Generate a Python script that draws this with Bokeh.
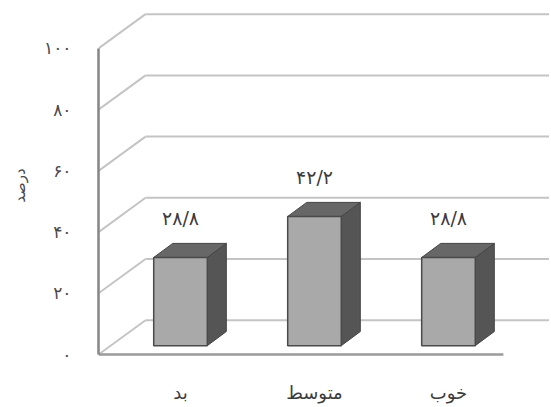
from bokeh.plotting import figure
from bokeh.models import Range1d, FixedTicker, ColumnDataSource
from bokeh.embed import file_html
from bokeh.resources import INLINE
from bokeh.core.properties import value

# ---- data ----
categories = ["بد", "متوسط", "خوب"]
values = [28.8, 42.2, 28.8]
value_labels = ["۲۸/۸", "۴۲/۲", "۲۸/۸"]
y_ticks = [0, 20, 40, 60, 80, 100]
y_tick_labels = ["۰", "۲۰", "۴۰", "۶۰", "۸۰", "۱۰۰"]
y_title = "درصد"

FONT = "DejaVu Sans"

# ---- geometry (data units) ----
x0, x1 = -0.612, 2.754
y0, y1 = -1.96, 112.4
wall_dx, wall_dy = 0.351, 11.2     # back wall depth
bar_hw = 0.2                        # half width of front face
bar_dx, bar_dy = 0.142, 4.6         # bar side depth
base = 2.9                          # bar base lift above floor
floor_front_end = 2.41

p = figure(frame_width=451, frame_height=350, output_backend="svg", toolbar_location=None,
           x_range=Range1d(x0, x1), y_range=Range1d(y0, y1),
           min_border_left=98, min_border_right=0, min_border_top=10, min_border_bottom=40)
p.xgrid.visible = False
p.ygrid.visible = False
p.outline_line_color = None
p.background_fill_color = "white"
p.border_fill_color = "white"

# back wall gridlines + slanted connectors
gx0 = [x0 + wall_dx for _ in y_ticks]
gx1 = [x1 for _ in y_ticks]
gy = [t + wall_dy for t in y_ticks]
p.segment(x0=gx0, y0=gy, x1=gx1, y1=gy, line_color="#c4c4c4", line_width=2)
p.segment(x0=[x0] * len(y_ticks), y0=y_ticks, x1=gx0, y1=gy, line_color="#c4c4c4", line_width=2)
# front floor edge
p.segment(x0=[x0], y0=[0], x1=[floor_front_end], y1=[0], line_color="#9a9a9a", line_width=2.5)

# bars
idx = list(range(len(categories)))
lefts = [i - bar_hw for i in idx]
rights = [i + bar_hw for i in idx]
tops = [base + v for v in values]
bottoms = [base for _ in values]

side_xs = [[r, r + bar_dx, r + bar_dx, r] for r in rights]
side_ys = [[b, b + bar_dy, t + bar_dy, t] for b, t in zip(bottoms, tops)]
p.patches(xs=side_xs, ys=side_ys, fill_color="#555555", line_color="#444444", line_width=1)

top_xs = [[l, r, r + bar_dx, l + bar_dx] for l, r in zip(lefts, rights)]
top_ys = [[t, t, t + bar_dy, t + bar_dy] for t in tops]
p.patches(xs=top_xs, ys=top_ys, fill_color="#676767", line_color="#444444", line_width=1)

p.quad(left=lefts, right=rights, bottom=bottoms, top=tops,
       fill_color="#a9a9a9", line_color="#4a4a4a", line_width=1.5)

# value labels
lab = ColumnDataSource(dict(x=idx, y=[t + 12.8 for t in tops], text=value_labels))
p.text(x="x", y="y", text="text", source=lab, text_align="center", text_baseline="middle",
       text_font=value(FONT), text_font_size="19px", text_color="#3c3c3c")

# y axis
ya = p.yaxis[0]
ya.ticker = FixedTicker(ticks=y_ticks)
ya.major_label_overrides = {t: s for t, s in zip(y_ticks, y_tick_labels)}
ya.bounds = (0, 100)
ya.axis_line_color = "#858585"
ya.axis_line_width = 2.5
ya.major_tick_line_color = None
ya.minor_tick_line_color = None
ya.major_label_standoff = 21
ya.major_label_text_font = FONT
ya.major_label_text_font_size = "17px"
ya.major_label_text_color = "#4a4a4a"
ya.axis_label = y_title
ya.axis_label_text_font = FONT
ya.axis_label_text_font_style = "normal"
ya.axis_label_text_font_size = "15px"
ya.axis_label_text_color = "#4a4a4a"
ya.axis_label_standoff = 12

# x axis
xa = p.xaxis[0]
xa.ticker = FixedTicker(ticks=idx)
xa.major_label_overrides = {i: c for i, c in zip(idx, categories)}
xa.axis_line_color = None
xa.major_tick_line_color = None
xa.minor_tick_line_color = None
xa.major_label_standoff = 15
xa.major_label_text_font = FONT
xa.major_label_text_font_size = "18px"
xa.major_label_text_color = "#3c3c3c"

open("out.html", "w").write(file_html(p, INLINE))
